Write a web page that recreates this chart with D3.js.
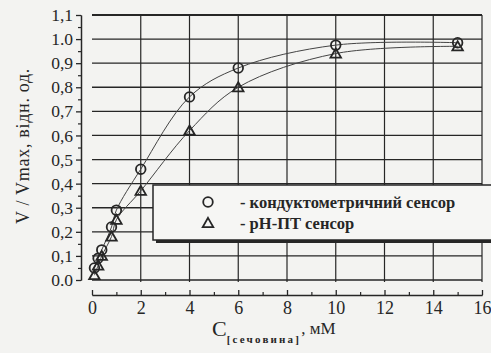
<!DOCTYPE html>
<html>
<head>
<meta charset="utf-8">
<script src="https://cdn.jsdelivr.net/npm/d3@7"></script>
<style>
  body { margin: 0; background: #f3f3f1; }
  svg { display: block; }
  .tick text { font-family: "Liberation Serif", "DejaVu Serif", serif; }
</style>
</head>
<body>
<div id="chart"></div>
<script>
// data
const conc = [0.1, 0.25, 0.4, 0.8, 1.0, 2, 4, 6, 10, 15];          // mM urea
const conductSensor = [0.05, 0.09, 0.125, 0.22, 0.29, 0.46, 0.76, 0.88, 0.975, 0.985];
const phSensor = [0.02, 0.06, 0.10, 0.18, 0.25, 0.37, 0.62, 0.80, 0.94, 0.97];

const yTicks = [0, 0.1, 0.2, 0.3, 0.4, 0.5, 0.6, 0.7, 0.8, 0.9, 1.0, 1.1];
const yTickLabels = ["0.0", "0,1", "0,2", "0,3", "0,4", "0,5", "0,6", "0,7", "0,8", "0,9", "1.0", "1,1"];
const xTicks = [0, 2, 4, 6, 8, 10, 12, 14, 16];
const legendLabels = ["- кондуктометричний сенсор", "- рН-ПТ сенсор"];

const W = 491, H = 353;
const ink = "#262626";
const serif = "Liberation Serif, DejaVu Serif, serif";

const svg = d3.select("#chart").append("svg")
  .attr("width", W)
  .attr("height", H);

// plot frame in pixels
const x = d3.scaleLinear().domain([0, 16]).range([92, 482]);
const y = d3.scaleLinear().domain([0, 1.1]).range([280, 15]);

// grid: horizontal every 0.1, vertical every 2
svg.append("g").selectAll("line")
  .data(yTicks)
  .join("line")
  .attr("x1", x(0)).attr("x2", x(16))
  .attr("y1", d => y(d)).attr("y2", d => y(d))
  .attr("stroke", ink)
  .attr("stroke-width", d => d === 1.1 ? 2 : 1.3);

svg.append("g").selectAll("line")
  .data(xTicks.filter(d => d > 0))
  .join("line")
  .attr("x1", d => x(d)).attr("x2", d => x(d))
  .attr("y1", y(1.1)).attr("y2", y(0) + 2)
  .attr("stroke", ink)
  .attr("stroke-width", 1.2);

// y axis (offset to the left)
const yAxis = svg.append("g")
  .attr("transform", "translate(81,0)")
  .call(d3.axisLeft(y)
    .tickValues(yTicks)
    .tickFormat((d, i) => yTickLabels[i])
    .tickSize(5)
    .tickSizeOuter(0)
    .tickPadding(3));
yAxis.selectAll("text").style("font-size", "17.5px").attr("fill", ink);
yAxis.selectAll("line, path").attr("stroke", ink).attr("stroke-width", 1.3);

svg.append("g")
  .attr("transform", "translate(81,0)")
  .call(d3.axisLeft(y)
    .tickValues(yTicks.slice(0, -1).map(d => d + 0.05))
    .tickFormat("")
    .tickSize(3)
    .tickSizeOuter(0))
  .selectAll("line, path").attr("stroke", ink).attr("stroke-width", 1.2);

// x axis (offset below), ticks pointing up
const xAxis = svg.append("g")
  .attr("transform", "translate(0,295)")
  .call(d3.axisBottom(x)
    .tickValues(xTicks)
    .tickSize(-5)
    .tickSizeOuter(0)
    .tickPadding(6));
xAxis.selectAll("text").style("font-size", "18px").attr("fill", ink);
xAxis.selectAll("line, path").attr("stroke", ink).attr("stroke-width", 1.3);

svg.append("g")
  .attr("transform", "translate(0,295)")
  .call(d3.axisBottom(x)
    .tickValues(d3.range(1, 16, 2))
    .tickFormat("")
    .tickSize(-3)
    .tickSizeOuter(0))
  .selectAll("line, path").attr("stroke", ink).attr("stroke-width", 1.2);

// fitted curves
const line = d3.line()
  .x(d => x(d[0]))
  .y(d => y(d[1]))
  .curve(d3.curveCatmullRom.alpha(0.5));

[conductSensor, phSensor].forEach(series => {
  svg.append("path")
    .datum(conc.map((c, i) => [c, series[i]]))
    .attr("fill", "none")
    .attr("stroke", "#444")
    .attr("stroke-width", 1)
    .attr("d", line);
});

// markers
const tri = d3.symbol().type(d3.symbolTriangle).size(48);

svg.append("g").selectAll("circle")
  .data(conc.map((c, i) => [c, conductSensor[i]]))
  .join("circle")
  .attr("cx", d => x(d[0]))
  .attr("cy", d => y(d[1]))
  .attr("r", 4.8)
  .attr("fill", "none")
  .attr("stroke", ink)
  .attr("stroke-width", 1.8);

svg.append("g").selectAll("path")
  .data(conc.map((c, i) => [c, phSensor[i]]))
  .join("path")
  .attr("transform", d => `translate(${x(d[0])},${y(d[1]) + 1})`)
  .attr("d", tri)
  .attr("fill", "none")
  .attr("stroke", ink)
  .attr("stroke-width", 1.8);

// legend box with drop shadow
const legend = svg.append("g");
legend.append("rect")
  .attr("x", 156).attr("y", 188)
  .attr("width", 345).attr("height", 55)
  .attr("fill", ink);
legend.append("rect")
  .attr("x", 153).attr("y", 185)
  .attr("width", 345).attr("height", 55)
  .attr("fill", "#f6f6f4")
  .attr("stroke", ink)
  .attr("stroke-width", 1.5);

legend.append("circle")
  .attr("cx", 208).attr("cy", 202)
  .attr("r", 4.8)
  .attr("fill", "none").attr("stroke", ink).attr("stroke-width", 1.8);
legend.append("path")
  .attr("transform", "translate(208,224)")
  .attr("d", tri)
  .attr("fill", "none").attr("stroke", ink).attr("stroke-width", 1.8);

legend.selectAll("text")
  .data(legendLabels)
  .join("text")
  .attr("x", 240)
  .attr("y", (d, i) => 208 + i * 21)
  .attr("font-family", serif)
  .attr("font-weight", "bold")
  .attr("font-size", 16.5)
  .attr("fill", ink)
  .text(d => d);

// axis titles
svg.append("text")
  .attr("transform", "translate(29,146) rotate(-90)")
  .attr("text-anchor", "middle")
  .attr("font-family", serif)
  .attr("font-size", 18)
  .attr("letter-spacing", 0.7)
  .attr("fill", ink)
  .text("V / Vmax, відн. од.");

const xt = svg.append("text")
  .attr("x", 212)
  .attr("y", 336)
  .attr("font-family", serif)
  .attr("fill", ink);
xt.append("tspan").attr("font-size", 22).text("C");
xt.append("tspan")
  .attr("font-size", 11)
  .attr("font-weight", "bold")
  .attr("letter-spacing", 2.2)
  .attr("dy", 7)
  .text("[сечовина]");
xt.append("tspan")
  .attr("font-size", 17)
  .attr("dy", -9)
  .text(", мМ");
</script>
</body>
</html>
